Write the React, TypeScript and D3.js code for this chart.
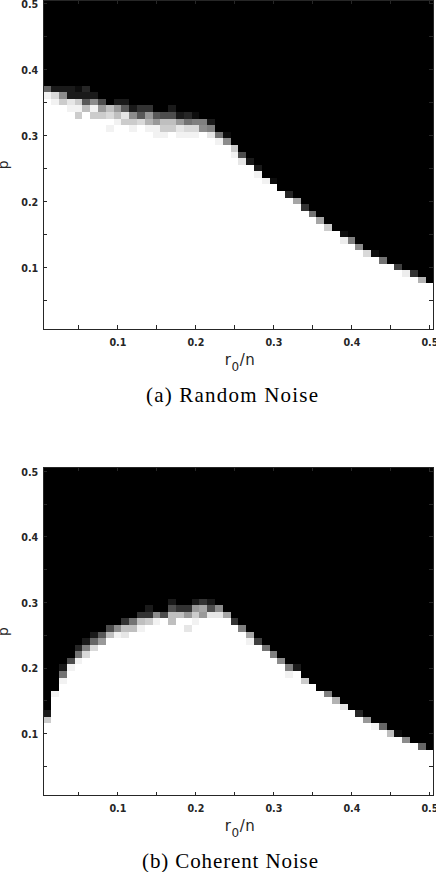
import React, { useEffect, useRef } from 'react';
import { select, scaleLinear, axisBottom, axisTop, axisLeft, axisRight, rgb } from 'd3';

// grid of the experiment: r0/n and p both go 0.01 .. 0.50
const gridSteps = [
    0.01, 0.02, 0.03, 0.04, 0.05, 0.06, 0.07, 0.08, 0.09, 0.1,
    0.11, 0.12, 0.13, 0.14, 0.15, 0.16, 0.17, 0.18, 0.19, 0.2,
    0.21, 0.22, 0.23, 0.24, 0.25, 0.26, 0.27, 0.28, 0.29, 0.3,
    0.31, 0.32, 0.33, 0.34, 0.35, 0.36, 0.37, 0.38, 0.39, 0.4,
    0.41, 0.42, 0.43, 0.44, 0.45, 0.46, 0.47, 0.48, 0.49, 0.5,
];
const tickValues = [0.05, 0.1, 0.15, 0.2, 0.25, 0.3, 0.35, 0.4, 0.45, 0.5];
const tickLabels = ['', '0.1', '', '0.2', '', '0.3', '', '0.4', '', '0.5'];
const captions = ['(a) Random Noise', '(b) Coherent Noise'];

// per column: p (in hundredths) of the first non-white cell,
// then the gray levels going up from there; everything above is black
const randomStart = [36, 35, 35, 34, 33, 34, 33, 33, 31, 32, 32, 31, 32, 31, 30, 30, 31, 30, 30, 30,
    31, 30, 29, 29, 27, 26, 26, 24, 23, 23, 22, 21, 20, 19, 18, 17, 16, 16, 14, 14,
    13, 12, 12, 11, 11, 10, 9, 9, 8, 8];
const randomCells = [
    [0.95, 0.4], [0.95, 0.85, 0.1], [0.8, 0.55, 0.1], [0.95, 0.9, 0.1, 0.1], [0.8, 0.95, 0.8, 0.1, 0.05],
    [0.75, 0.35, 0.1, 0.15], [0.8, 0.95, 0.55, 0.1], [0.8, 0.6, 0.3], [0.95, 1, 0.85, 0.75], [0.95, 0.75, 0.6, 0.1],
    [0.8, 0.9, 0.35, 0.1], [0.95, 0.8, 0.55, 0.1], [0.85, 0.35, 0.2], [0.95, 0.7, 0.6, 0.2], [0.95, 0.95, 0.6, 0.35],
    [0.95, 0.8, 0.75, 0.3], [0.8, 0.75, 0.3, 0.1], [0.95, 0.9, 0.6, 0.1], [0.95, 0.85, 0.45, 0.15], [0.95, 0.85, 0.5, 0.05],
    [0.55, 0.5], [0.9, 0.5, 0.1], [0.95, 0.45], [0.55, 0.05], [0.95, 0.8],
    [0.9, 0.3], [0.1], [0.95, 0.1], [0.95], [0.05],
    [], [0.15], [0.65], [0.2], [0.45],
    [0.65], [0.8], [], [0.93, 0.05], [0.5],
    [0.55], [0.85], [0.05], [0.45], [],
    [0.25], [0.93], [0.2], [0.7], [],
];

const coherentStart = [12, 16, 18, 20, 21, 22, 23, 24, 25, 25, 25, 26, 26, 27, 27, 28, 27, 28, 26, 27,
    28, 28, 28, 28, 27, 26, 24, 24, 23, 22, 21, 19, 20, 18, 18, 17, 16, 15, 14, 14,
    13, 12, 11, 11, 10, 10, 9, 9, 8, 8];
const coherentCells = [
    [0.8, 0.1], [0.95], [0.95, 0.45, 0.1], [0.95, 0.3], [0.95, 0.45, 0.15],
    [0.85, 0.5, 0.1], [0.85, 0.4, 0.1], [0.6, 0.35], [0.75, 0.3], [0.95, 0.55],
    [0.9, 0.75, 0.2], [0.75, 0.45], [0.95, 0.75, 0.2], [0.8, 0.2, 0.1], [0.95, 0.55],
    [0.3], [0.75, 0.75, 0.3, 0.1], [0.75, 0.2], [0.9, 1, 0.6, 0.2], [0.95, 0.8, 0.6, 0.1],
    [0.6, 0.65, 0.2], [0.9, 0.3, 0.1], [0.9, 0.55], [0.65], [0.2],
    [0.5], [0.95, 0.65], [0.25], [0.45], [0.5],
    [0.55], [0.95, 0.5], [0.1], [0.8], [],
    [], [0.5], [0.7], [0.9], [],
    [0.15], [0.6], [0.95], [0.4], [0.75],
    [0.05], [0.55], [], [0.4], [],
];

const LEFT = 43.3;
const RIGHT = 433.3;
const INK = '#262626';

const panels = [
    { top: 0, bottom: 329.4, start: randomStart, cells: randomCells, caption: captions[0], captionX: 232, captionWidth: 172 },
    { top: 467.4, bottom: 795.7, start: coherentStart, cells: coherentCells, caption: captions[1], captionX: 230, captionWidth: 176 },
];

const PhaseCharts = () => {
    const svgRef = useRef(null);

    useEffect(() => {
        const svg = select(svgRef.current);
        svg.selectAll('*').remove();

        const xScale = scaleLinear().domain([0.005, 0.505]).range([LEFT, RIGHT]);

        panels.forEach((panel) => {
            const yScale = scaleLinear().domain([0.005, 0.505]).range([panel.bottom, panel.top]);
            const g = svg.append('g');

            const cells = [];
            gridSteps.forEach((r, i) => {
                gridSteps.forEach((p, j) => {
                    const k = j + 1 - panel.start[i];
                    const v = k < 0 ? 1 : k < panel.cells[i].length ? panel.cells[i][k] : 0;
                    cells.push({ r, p, v });
                });
            });

            const cw = xScale(0.02) - xScale(0.01);
            const ch = yScale(0.01) - yScale(0.02);
            g.selectAll('.cell')
                .data(cells)
                .join('rect')
                .attr('class', 'cell')
                .attr('x', (d) => xScale(d.r - 0.005))
                .attr('y', (d) => yScale(d.p + 0.005))
                .attr('width', cw)
                .attr('height', ch)
                .attr('fill', (d) => rgb(d.v * 255, d.v * 255, d.v * 255).formatHex())
                .attr('shape-rendering', 'crispEdges');

            const fmt = (d, i) => tickLabels[i];
            g.append('g')
                .attr('class', 'x-axis')
                .attr('transform', `translate(0,${panel.bottom})`)
                .call(axisBottom(xScale).tickValues(tickValues).tickFormat(fmt).tickSize(-4).tickPadding(9.5));
            g.append('g')
                .attr('transform', `translate(0,${panel.top})`)
                .call(axisTop(xScale).tickValues(tickValues).tickFormat(() => '').tickSize(-4));
            g.append('g')
                .attr('class', 'y-axis')
                .attr('transform', `translate(${LEFT},0)`)
                .call(axisLeft(yScale).tickValues(tickValues).tickFormat(fmt).tickSize(-4).tickPadding(5));
            g.append('g')
                .attr('transform', `translate(${RIGHT},0)`)
                .call(axisRight(yScale).tickValues(tickValues).tickFormat(() => '').tickSize(-4));

            g.selectAll('.domain').remove();
            g.selectAll('.tick line').attr('stroke', INK).attr('shape-rendering', 'crispEdges');
            g.selectAll('.tick text')
                .attr('fill', INK)
                .attr('font-family', 'DejaVu Sans')
                .attr('font-weight', 'bold')
                .attr('font-size', 9.6);
            g.selectAll('.y-axis .tick text').attr('dy', '0.45em');

            g.append('rect')
                .attr('x', LEFT)
                .attr('y', panel.top + 0.5)
                .attr('width', RIGHT - LEFT)
                .attr('height', panel.bottom - panel.top - 0.5)
                .attr('fill', 'none')
                .attr('stroke', INK)
                .attr('shape-rendering', 'crispEdges');

            const xl = g.append('text')
                .attr('x', 240)
                .attr('y', panel.bottom + 35.6)
                .attr('text-anchor', 'middle')
                .attr('font-family', 'DejaVu Sans')
                .attr('font-size', 15)
                .attr('letter-spacing', 0.5)
                .attr('fill', INK);
            xl.append('tspan').text('r');
            xl.append('tspan').attr('dy', 5.5).attr('font-size', 12).text('0');
            xl.append('tspan').attr('dy', -5.5).text('/n');

            g.append('text')
                .attr('transform', `translate(8.3,${(panel.top + panel.bottom) / 2}) rotate(-90)`)
                .attr('text-anchor', 'middle')
                .attr('font-family', 'DejaVu Sans')
                .attr('font-size', 14)
                .attr('fill', INK)
                .text('p');

            g.append('text')
                .attr('x', panel.captionX)
                .attr('y', panel.bottom + 72.3)
                .attr('text-anchor', 'middle')
                .attr('font-family', 'Liberation Serif')
                .attr('font-size', 21)
                .attr('textLength', panel.captionWidth)
                .attr('lengthAdjust', 'spacing')
                .attr('fill', '#000')
                .text(panel.caption);
        });
    }, []);

    return (
        <svg
            ref={svgRef}
            width={436}
            height={872}
            style={{ position: 'absolute', left: 0, top: 0, background: '#fff', display: 'block' }}
        />
    );
};

export default function App() {
    return <PhaseCharts />;
}
